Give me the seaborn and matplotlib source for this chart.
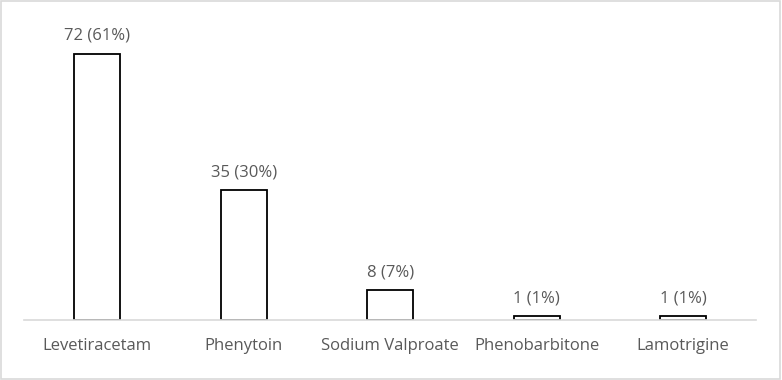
import matplotlib
matplotlib.use("Agg")
import matplotlib.pyplot as plt
import seaborn as sns
import pandas as pd
from matplotlib.patches import Rectangle

drugs = ["Levetiracetam", "Phenytoin", "Sodium Valproate", "Phenobarbitone", "Lamotrigine"]
counts = [72, 35, 8, 1, 1]
pct_labels = ["72 (61%)", "35 (30%)", "8 (7%)", "1 (1%)", "1 (1%)"]

sns.set_style("white")
plt.rcParams['font.family'] = ['Open Sans', 'DejaVu Sans']

df = pd.DataFrame({"drug": drugs, "count": counts})

fig = plt.figure(figsize=(7.82, 3.8), dpi=100)
ax = fig.add_axes([0.031, 0.158, 0.936, 0.779])

sns.barplot(data=df, x="drug", y="count", ax=ax, color="white",
            edgecolor="black", linewidth=1.3, width=0.315)

# value labels above each bar
for i, (c, lab) in enumerate(zip(counts, pct_labels)):
    ax.annotate(lab, (i, c), xytext=(0, 7), textcoords="offset points",
                ha="center", va="bottom", fontsize=12, color="#595959")

ax.set_ylim(0, 80)
ax.set_xlim(-0.5, 4.5)
ax.set_yticks([])
ax.set_xlabel("")
ax.set_ylabel("")
for s in ["top", "left", "right"]:
    ax.spines[s].set_visible(False)
ax.spines["bottom"].set_color("#d9d9d9")
ax.spines["bottom"].set_linewidth(1.2)
ax.tick_params(axis="x", length=0, pad=13, labelsize=12, labelcolor="#595959")

# thin grey frame round the whole chart
fig.patches.append(Rectangle((0.001, 0.002), 0.997, 0.995, transform=fig.transFigure,
                             fill=False, edgecolor="#d9d9d9", linewidth=1.2))

fig.savefig("out.png", dpi=100)
